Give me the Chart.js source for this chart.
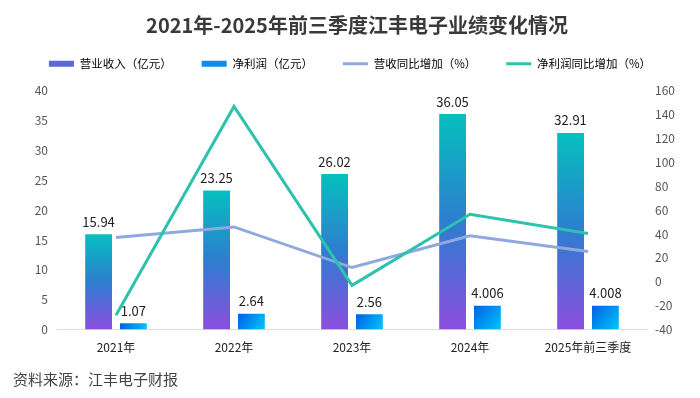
<!DOCTYPE html>
<html>
<head>
<meta charset="utf-8">
<script src="https://cdn.jsdelivr.net/npm/chart.js@4/dist/chart.umd.min.js"></script>
<style>
    html, body { margin: 0; padding: 0; background: #fff; }
    #wrap { width: 700px; height: 398px; position: relative; }
</style>
</head>
<body>
<div id="wrap"><canvas id="grafica"></canvas></div>
<script>
const titulo = "2021年-2025年前三季度江丰电子业绩变化情况";
const fuente = "资料来源：江丰电子财报";
const periodos = ["2021年", "2022年", "2023年", "2024年", "2025年前三季度"];
const ingresos = [15.94, 23.25, 26.02, 36.05, 32.91];
const beneficio = [1.07, 2.64, 2.56, 4.006, 4.008];
const ingresosYoY = [37, 45.9, 11.9, 38.5, 25.3];
const beneficioYoY = [-28, 146.7, -3, 56.5, 40.3];
const ejeIzq = [0, 40, 5];
const ejeDer = [-40, 160, 20];

const catPct = 0.59;
const barPct = 0.77;

Chart.defaults.font.family = '"Noto Sans CJK SC", "Noto Sans", sans-serif';
Chart.defaults.color = "#444";

function gradIngresos(ctx) {
    const chart = ctx.chart;
    if (!chart.chartArea || ctx.type !== "data") return "#3f78d2";
    const y = chart.scales.y;
    const top = y.getPixelForValue(ctx.raw);
    const bottom = y.getPixelForValue(0);
    const g = chart.ctx.createLinearGradient(0, top, 0, bottom);
    g.addColorStop(0, "#05c0be");
    g.addColorStop(0.5, "#2d7dd0");
    g.addColorStop(1, "#8c4ede");
    return g;
}

function gradBeneficio(ctx) {
    const chart = ctx.chart;
    if (!chart.chartArea || ctx.type !== "data") return "#0a8ef0";
    const x = chart.scales.x, y = chart.scales.y;
    const slot = x.width / periodos.length * catPct / 2;
    const cx = x.getPixelForValue(ctx.dataIndex) + slot / 2;
    const half = slot * barPct / 2;
    const top = y.getPixelForValue(ctx.raw);
    const bottom = y.getPixelForValue(0);
    const g = chart.ctx.createLinearGradient(cx - half, top, cx + half, bottom);
    g.addColorStop(0, "#0060e6");
    g.addColorStop(1, "#00c6fa");
    return g;
}

// extra space between legend and plot
const legendGap = {
    id: "legendGap",
    beforeInit(chart) {
        const fit = chart.legend.fit;
        chart.legend.fit = function () {
            fit.call(this);
            this.height += 11;
        };
    }
};

// title, source and value labels
const textos = {
    id: "textos",
    afterDatasetsDraw(chart) {
        const c = chart.ctx;
        c.save();
        c.fillStyle = "#222";
        c.font = '13px "Noto Sans CJK SC", sans-serif';
        c.textAlign = "center";
        c.textBaseline = "bottom";
        [0, 1].forEach(i => {
            const meta = chart.getDatasetMeta(i);
            meta.data.forEach((bar, j) => {
                c.fillText(String(chart.data.datasets[i].data[j]), bar.x, bar.y - 6);
            });
        });
        c.restore();
    },
    afterDraw(chart) {
        const c = chart.ctx;
        c.save();
        c.fillStyle = "#3a3a3a";
        c.font = 'bold 20px "Noto Sans CJK SC", sans-serif';
        c.textAlign = "center";
        c.textBaseline = "middle";
        c.fillText(titulo, 357, 25);
        c.fillStyle = "#444";
        c.font = '15px "Noto Sans CJK SC", sans-serif';
        c.textAlign = "left";
        c.fillText(fuente, 13, 379);
        c.restore();
    }
};

const leyenda = [
    { text: "营业收入（亿元）", fillStyle: "#5a68d8", strokeStyle: "#5a68d8", lineWidth: 0, pointStyle: "rect" },
    { text: "净利润（亿元）", fillStyle: "#0a8cf0", strokeStyle: "#0a8cf0", lineWidth: 0, pointStyle: "rect" },
    { text: "营收同比增加（%）", fillStyle: "#8fa9e0", strokeStyle: "#8fa9e0", lineWidth: 3, pointStyle: "line" },
    { text: "净利润同比增加（%）", fillStyle: "#2ec2ac", strokeStyle: "#2ec2ac", lineWidth: 3, pointStyle: "line" }
];

new Chart(document.getElementById("grafica"), {
    type: "bar",
    data: {
        labels: periodos,
        datasets: [{
            label: "营业收入（亿元）",
            data: ingresos,
            backgroundColor: gradIngresos,
            borderWidth: 0,
            categoryPercentage: catPct,
            barPercentage: barPct,
            yAxisID: "y",
            order: 2
        }, {
            label: "净利润（亿元）",
            data: beneficio,
            backgroundColor: gradBeneficio,
            borderWidth: 0,
            categoryPercentage: catPct,
            barPercentage: barPct,
            yAxisID: "y",
            order: 2
        }, {
            type: "line",
            label: "营收同比增加（%）",
            data: ingresosYoY,
            borderColor: "#8fa9e0",
            borderWidth: 3,
            pointRadius: 0,
            tension: 0,
            yAxisID: "y1",
            order: 1
        }, {
            type: "line",
            label: "净利润同比增加（%）",
            data: beneficioYoY,
            borderColor: "#2ec2ac",
            borderWidth: 3,
            pointRadius: 0,
            tension: 0,
            yAxisID: "y1",
            order: 0
        }]
    },
    options: {
        responsive: true,
        maintainAspectRatio: false,
        animation: false,
        layout: { padding: { top: 28, bottom: 32, left: 0, right: 0 } },
        plugins: {
            title: { display: false },
            tooltip: { enabled: false },
            legend: {
                position: "top",
                labels: {
                    usePointStyle: true,
                    pointStyleWidth: 25,
                    boxHeight: 6,
                    padding: 30,
                    color: "#333",
                    font: { size: 11.5 },
                    generateLabels: () => leyenda.map((l, i) => Object.assign({ datasetIndex: i, hidden: false }, l))
                }
            }
        },
        scales: {
            x: {
                grid: { display: false, drawTicks: false },
                border: { display: true, color: "#dedede" },
                ticks: { color: "#222", font: { size: 12 }, padding: 11 }
            },
            y: {
                position: "left",
                min: ejeIzq[0],
                max: ejeIzq[1],
                grid: { display: false, drawTicks: false },
                border: { display: false },
                ticks: { stepSize: ejeIzq[2], color: "#555", font: { size: 12 }, padding: 9 },
                afterFit(scale) { scale.width = 57; }
            },
            y1: {
                position: "right",
                min: ejeDer[0],
                max: ejeDer[1],
                grid: { display: false, drawTicks: false },
                border: { display: false },
                ticks: { stepSize: ejeDer[2], color: "#555", font: { size: 12 }, padding: 8 },
                afterFit(scale) { scale.width = 53; }
            }
        }
    },
    plugins: [legendGap, textos]
});
</script>
</body>
</html>
